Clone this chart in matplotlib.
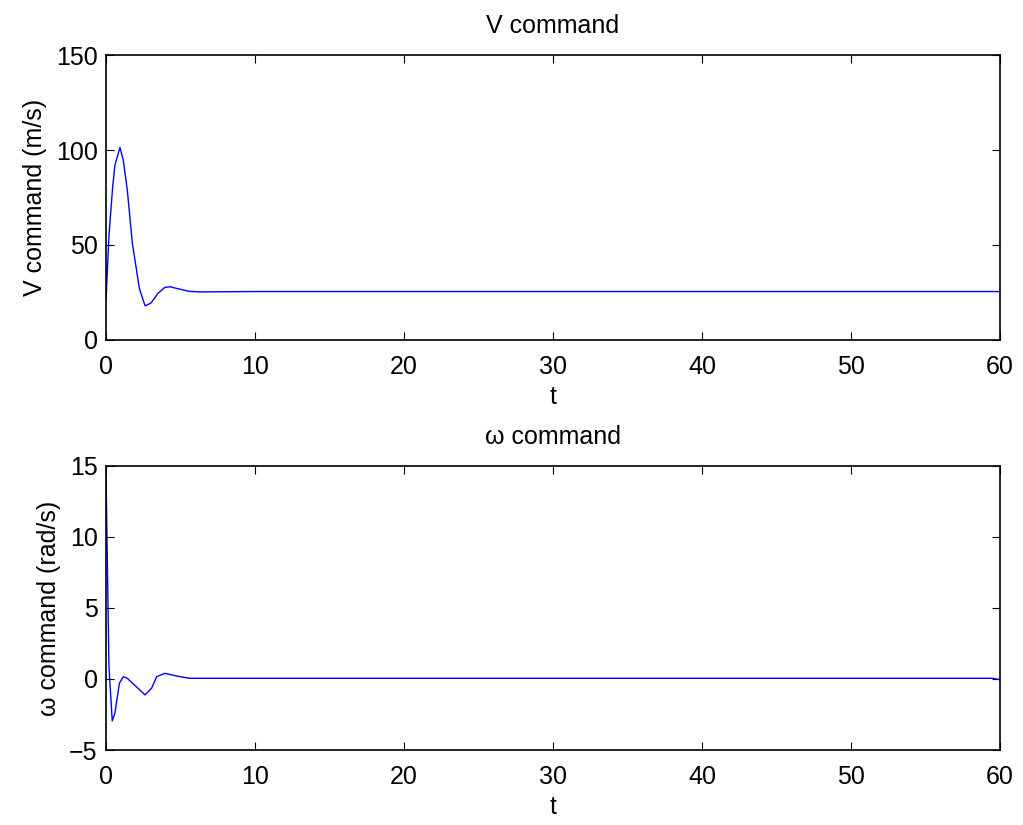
import matplotlib
matplotlib.use("Agg")
from matplotlib import pyplot as plt

# values
t_v = [0, 0.2, 0.45, 0.6, 0.94, 1.16, 1.43, 1.77, 2.24, 2.62, 3.0, 3.5, 3.95, 4.3,
       4.97, 5.6, 6.3, 8.0, 10.0, 20.0, 30.0, 40.0, 50.0, 60.0]
v_cmd = [20.2, 55, 80.7, 92, 101.4, 94.7, 79, 50.9, 27.2, 18, 19.3, 24.6, 27.7, 28,
         26.7, 25.6, 25.3, 25.4, 25.5, 25.5, 25.5, 25.5, 25.5, 25.5]

t_w = [0, 0.2, 0.42, 0.6, 0.9, 1.16, 1.43, 2.62, 3.06, 3.4, 3.95, 4.74, 5.6,
       7.0, 10.0, 20.0, 30.0, 40.0, 50.0, 59.5, 60.0]
w_cmd = [14.6, 0.87, -2.95, -2.4, -0.3, 0.16, 0.05, -1.12, -0.65, 0.16, 0.4, 0.21, 0.05,
         0.05, 0.05, 0.05, 0.05, 0.05, 0.05, 0.05, -0.05]

plt.rcParams['font.family'] = ['Liberation Sans', 'DejaVu Sans']
plt.rcParams['font.size'] = 18

fig = plt.figure(figsize=(10.23, 8.25), dpi=100)
ax = fig.add_axes([0.1036, 0.5879, 0.8739, 0.3454])
bx = fig.add_axes([0.1036, 0.0909, 0.8739, 0.3443])

ax.plot(t_v, v_cmd, color='blue', lw=1)
ax.set_xlim(0, 60)
ax.set_ylim(0, 150)
ax.set_yticks([0, 50, 100, 150])
ax.set_title("V command", fontsize=18, pad=16)
ax.set_xlabel("t", labelpad=4)
ax.set_ylabel("V command (m/s)", labelpad=6)

bx.plot(t_w, w_cmd, color='blue', lw=1)
bx.set_xlim(0, 60)
bx.set_ylim(-5, 15)
bx.set_yticks([-5, 0, 5, 10, 15])
bx.set_yticklabels(["\u22125", "0", "5", "10", "15"])
bx.set_title("\u03c9 command", fontsize=18, pad=16)
bx.set_xlabel("t", labelpad=4)
bx.set_ylabel("\u03c9 command (rad/s)", labelpad=6)

for a in (ax, bx):
    a.tick_params(direction='in', top=True, right=True, length=6, width=0.8, labelsize=18)
    a.tick_params(axis='x', pad=11)
    a.tick_params(axis='y', pad=6)
    for s in a.spines.values():
        s.set_linewidth(1.2)

fig.savefig("out.png", dpi=100)
